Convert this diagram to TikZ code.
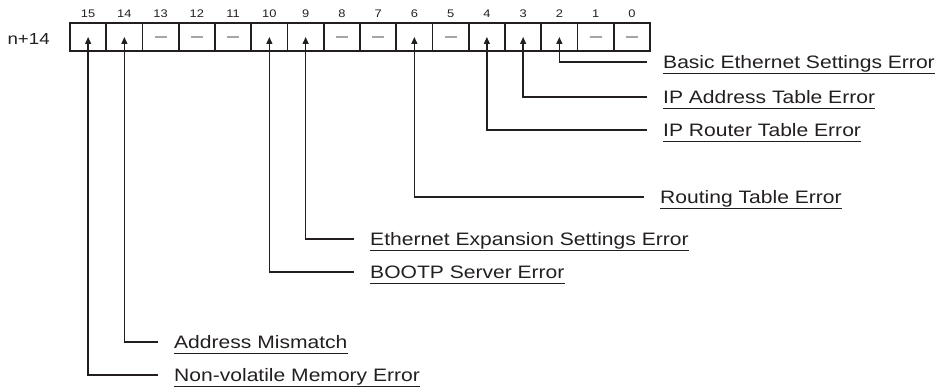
\documentclass[tikz,border=0pt]{standalone}
\usepackage{fontspec}
\setmainfont{Liberation Sans}[FakeStretch=1.17]
\usepackage{xcolor}
\usetikzlibrary{arrows.meta,positioning}
\definecolor{ink}{HTML}{231F20}

\begin{document}
\begin{tikzpicture}[
  x=1pt,y=-1pt,
  cell/.style={rectangle,draw=ink,line width=1.6pt,minimum width=36.25pt,
               minimum height=28pt,inner sep=0pt},
  bitnum/.style={font=\fontsize{11}{12}\selectfont,text=ink},
  reglbl/.style={font=\fontsize{16}{18}\selectfont,text=ink},
  errlbl/.style={anchor=base west,inner sep=0pt,text depth=4.5pt,
                 font=\fontsize{18}{20}\selectfont,text=ink},
  arr/.style={-{Triangle[length=7pt,width=6pt]},line width=1.3pt,draw=ink},
  uline/.style={line width=1.2pt,draw=ink},
  nobit/.style={draw=gray!70,line width=1.8pt}
]
\useasboundingbox (0,0) rectangle (948,387);

% register cells, bit 15 on the left
\foreach \b in {0,...,15}{
  \node[cell] (c\b) at ({70+(15.5-\b)*36.25},37) {};
  \node[bitnum,above=1pt of c\b] {\b};
}
\foreach \b in {0,1,5,7,8,11,12,13}
  \draw[nobit] ([xshift=-6pt]c\b.center) -- ([xshift=6pt]c\b.center);
\node[reglbl,left=16pt of c15,yshift=-2pt] (reg) {n+14};

% error labels
\node[errlbl] (e2)  at (663,68.5)  {Basic Ethernet Settings Error};
\node[errlbl] (e3)  at (663,103.5) {IP Address Table Error~};
\node[errlbl] (e4)  at (663,136.5) {IP Router Table Error~};
\node[errlbl] (e6)  at (660,203.5) {Routing Table Error~};
\node[errlbl] (e9)  at (370,245.5) {Ethernet Expansion Settings Error~};
\node[errlbl] (e10) at (370,278.5) {BOOTP Server Error};
\node[errlbl] (e14) at (174,348.5) {Address Mismatch~};
\node[errlbl] (e15) at (174,381.5) {Non-volatile Memory Error};

\foreach \e in {2,3,4,6,9,10,14,15}{
  \draw[uline] (e\e.south west) -- (e\e.south east);
  \draw[arr] ([xshift=-16pt,yshift=6.5pt]e\e.base west) -| (c\e.center);
}
\end{tikzpicture}
\end{document}
